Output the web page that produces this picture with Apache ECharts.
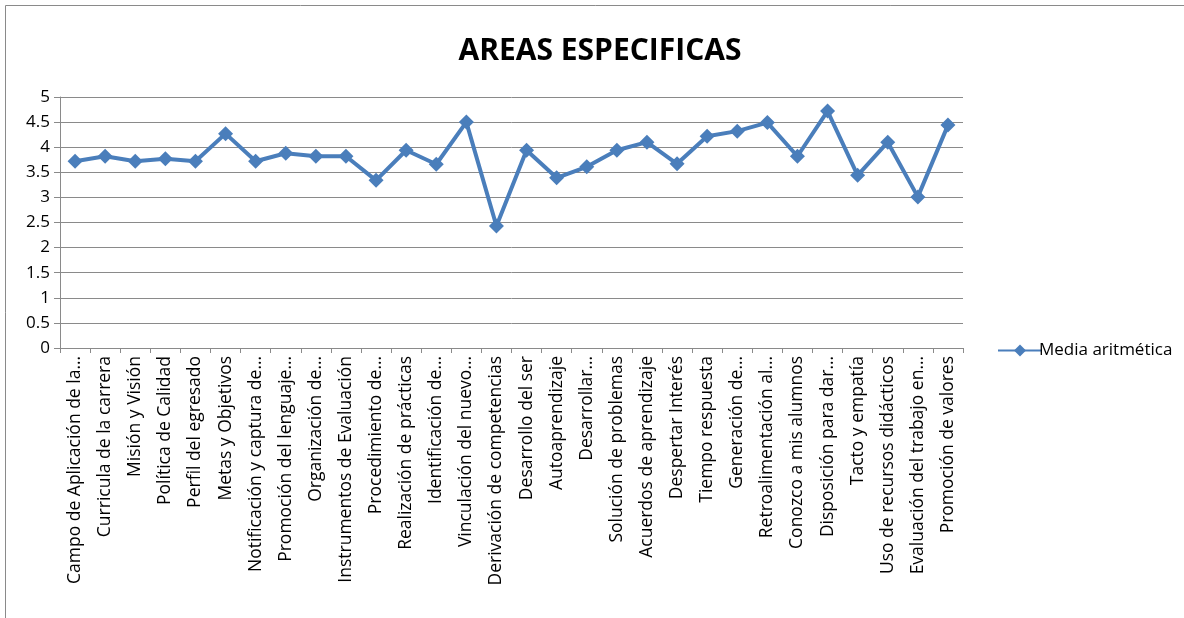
<!DOCTYPE html>
<html>
<head>
<meta charset="utf-8">
<script src="https://cdn.jsdelivr.net/npm/echarts@6/dist/echarts.min.js"></script>
<style>
  html, body { margin: 0; padding: 0; background: #fff; }
  #chart { width: 1184px; height: 618px; }
</style>
</head>
<body>
<div id="chart"></div>
<script>
const categories = [
  'Campo de Aplicación de la…', 'Curricula de la carrera', 'Misión y Visión', 'Política de Calidad',
  'Perfil del egresado', 'Metas y Objetivos', 'Notificación y captura de…', 'Promoción del lenguaje…',
  'Organización de…', 'Instrumentos de Evaluación', 'Procedimiento de…', 'Realización de prácticas',
  'Identificación de…', 'Vinculación del nuevo…', 'Derivación de competencias', 'Desarrollo del ser',
  'Autoaprendizaje', 'Desarrollar…', 'Solución de problemas', 'Acuerdos de aprendizaje',
  'Despertar Interés', 'Tiempo respuesta', 'Generación de…', 'Retroalimentación al…',
  'Conozco a mis alumnos', 'Disposición para dar…', 'Tacto y empatía', 'Uso de recursos didácticos',
  'Evaluación del trabajo en…', 'Promoción de valores'
]
const mediaValues = [
  3.72, 3.82, 3.72, 3.77, 3.72, 4.27, 3.72, 3.88, 3.82, 3.82,
  3.34, 3.94, 3.66, 4.5, 2.43, 3.94, 3.39, 3.61, 3.94, 4.1,
  3.67, 4.22, 4.32, 4.49, 3.82, 4.72, 3.44, 4.1, 3.01, 4.44
]
const seriesName = 'Media aritmética'

const chart = echarts.init(document.getElementById('chart'))
const lineColor = '#4a7ebb'
const font = '"Open Sans", "Noto Sans", sans-serif'

chart.setOption({
  animation: false,
  textStyle: { fontFamily: font },
  title: {
    text: 'AREAS ESPECIFICAS',
    left: 595,
    textAlign: 'center',
    top: 31,
    textStyle: { fontSize: 30, fontWeight: 'bold', color: '#000', fontFamily: font }
  },
  graphic: [{
    type: 'rect',
    shape: { x: 5.5, y: 5.5, width: 1400, height: 800 },
    style: { fill: 'none', stroke: '#8a8a8a', lineWidth: 1 },
    silent: true
  }],
  legend: {
    left: 992,
    top: 337,
    itemWidth: 44,
    itemHeight: 15,
    itemGap: 2,
    textStyle: { fontSize: 17, color: '#000', fontFamily: font, padding: [0, 0, 0, -8] },
    data: [seriesName]
  },
  grid: {
    left: 60,
    right: 221,
    top: 97,
    bottom: 270,
    containLabel: false
  },
  xAxis: {
    type: 'category',
    data: categories,
    boundaryGap: true,
    axisLine: { lineStyle: { color: '#8a8a8a', width: 1 } },
    axisTick: { show: true, alignWithLabel: false, length: 5, lineStyle: { color: '#8a8a8a' } },
    axisLabel: {
      rotate: 90,
      interval: 0,
      fontSize: 17.5,
      color: '#000',
      margin: 8,
      fontFamily: font
    },
    splitLine: { show: false }
  },
  yAxis: {
    type: 'value',
    min: 0,
    max: 5,
    interval: 0.5,
    axisLine: { show: true, lineStyle: { color: '#8a8a8a', width: 1 } },
    axisTick: { show: true, length: 6, lineStyle: { color: '#8a8a8a' } },
    axisLabel: { fontSize: 17, color: '#000', margin: 10, fontFamily: font },
    splitLine: { show: true, lineStyle: { color: '#8a8a8a', width: 1 } }
  },
  series: [{
    name: seriesName,
    type: 'line',
    data: mediaValues,
    symbol: 'diamond',
    symbolSize: 15,
    lineStyle: { color: lineColor, width: 4 },
    itemStyle: { color: lineColor },
    emphasis: { disabled: true }
  }]
})
</script>
</body>
</html>
